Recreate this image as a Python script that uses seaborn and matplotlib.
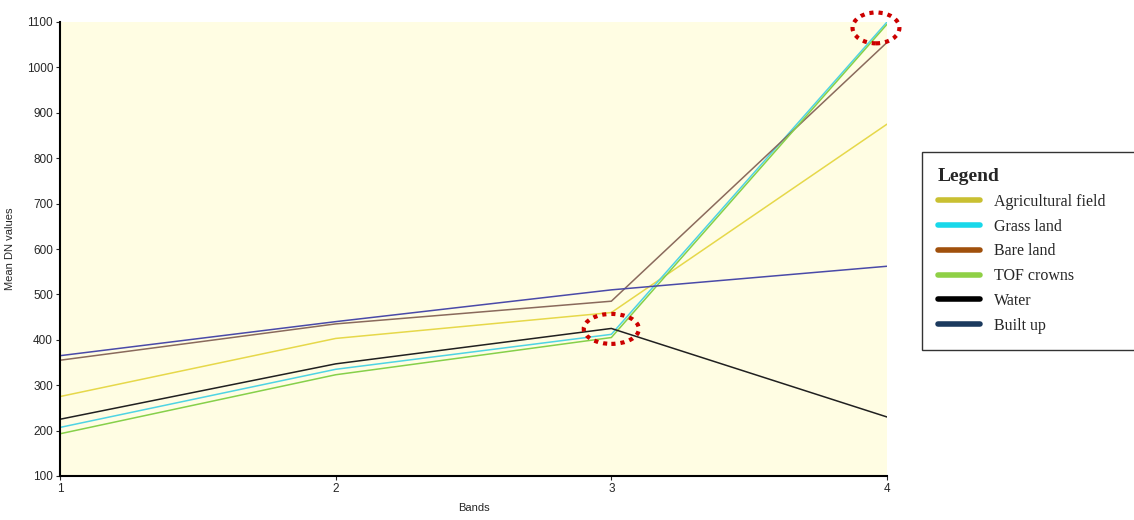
import pandas as pd
import matplotlib.pyplot as plt
import seaborn as sns
from matplotlib.lines import Line2D
from matplotlib.patches import Ellipse

# mean DN value per band for each land cover class
bands = [1, 2, 3, 4]
agricultural = [275, 403, 460, 875]
grass = [207, 335, 412, 1100]
bare = [355, 435, 485, 1055]
tof = [193, 323, 405, 1095]
water = [225, 347, 425, 230]
built_up = [365, 440, 510, 562]

classes = ['Agricultural field', 'Grass land', 'Bare land', 'TOF crowns', 'Water', 'Built up']
series = [agricultural, grass, bare, tof, water, built_up]

line_colors = ['#e6d84a', '#4fd4e4', '#8a6a5c', '#86d04a', '#202020', '#4a4aa8']
legend_colors = ['#c9c032', '#18d8ea', '#a0500c', '#8fd046', '#000000', '#1b3a5e']

rows = []
for name, vals in zip(classes, series):
    for b, v in zip(bands, vals):
        rows.append({'Bands': b, 'Mean DN values': v, 'Class': name})
df = pd.DataFrame(rows)

sns.set_style('white')
plt.rcParams['font.family'] = ['Liberation Sans', 'DejaVu Sans']

fig = plt.figure(figsize=(11.34, 5.2), dpi=100)
ax = fig.add_axes([60 / 1134, 44 / 520, 827 / 1134, 454 / 520])
ax.set_facecolor('#fffde3')

sns.lineplot(data=df, x='Bands', y='Mean DN values', hue='Class',
             palette=dict(zip(classes, line_colors)), linewidth=1.1,
             legend=False, ax=ax)

ax.set_xlim(1, 4)
ax.set_ylim(100, 1100)
ax.set_xticks(bands)
ax.set_yticks(range(100, 1101, 100))
ax.tick_params(axis='both', labelsize=8.5, length=3, width=0.8, direction='out',
               left=True, bottom=True, pad=2)
ax.set_xlabel('Bands', fontsize=8, labelpad=6)
ax.set_ylabel('Mean DN values', fontsize=8, labelpad=8)
for s in ['top', 'right']:
    ax.spines[s].set_visible(False)
for s in ['left', 'bottom']:
    ax.spines[s].set_color('black')
    ax.spines[s].set_linewidth(1.5)

# red dotted highlight rings
for cx, cy, w, h in [(3.0, 424, 0.2, 66), (3.96, 1087, 0.17, 68)]:
    ax.add_patch(Ellipse((cx, cy), w, h, fill=False, edgecolor='#cc0000',
                         linestyle=(0, (1, 1.2)), linewidth=3, clip_on=False, zorder=5))

# legend box runs off the right edge of the figure, as in the original
handles = [Line2D([0], [0], color=c, lw=4) for c in legend_colors]
leg = fig.legend(handles, classes, loc='upper left', mode='expand',
                 bbox_to_anchor=(922 / 1134, 1 - 352 / 520, 215 / 1134, 200 / 520),
                 title='Legend', alignment='left', frameon=True, fancybox=False,
                 prop={'family': 'Liberation Serif', 'size': 11.5},
                 title_fontproperties={'family': 'Liberation Serif', 'size': 14, 'weight': 'bold'},
                 handlelength=2.6, handletextpad=0.9, labelspacing=0.55,
                 borderpad=1.0, borderaxespad=0)
leg.get_frame().set_edgecolor('black')
leg.get_frame().set_linewidth(1.0)

fig.savefig('out.png', dpi=100, facecolor='white')
